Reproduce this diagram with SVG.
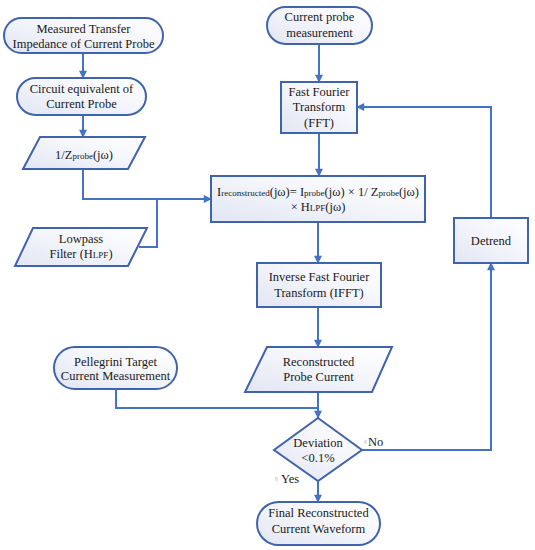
<svg xmlns="http://www.w3.org/2000/svg" width="535" height="550" viewBox="0 0 535 550">
<defs>
<linearGradient id="g" x1="0" y1="1" x2="1" y2="0">
<stop offset="0" stop-color="#e1e6f3"/>
<stop offset="0.6" stop-color="#f6f7fc"/>
<stop offset="1" stop-color="#ffffff"/>
</linearGradient>
<marker id="a" viewBox="0 0 10 10" refX="9" refY="5" markerWidth="9" markerHeight="8" markerUnits="userSpaceOnUse" orient="auto">
<path d="M0,0 L10,5 L0,10 z" fill="#4472c4"/>
</marker>
</defs>
<style>
.s{fill:url(#g);stroke:#3f63ad;stroke-width:2}
.c{fill:none;stroke:#4472c4;stroke-width:2}
.t{font-family:"Liberation Serif","Times New Roman",serif;font-size:12.5px;fill:#1a1a1a;text-anchor:middle}
.sm{font-size:9px}
.l{font-family:"Liberation Serif","Times New Roman",serif;font-size:12.5px;fill:#1a1a1a}
</style>
<rect width="535" height="550" fill="#ffffff"/>
<g id="connectors">
<path class="c" d="M83,53 V78" marker-end="url(#a)"/>
<path class="c" d="M83,115 V137" marker-end="url(#a)"/>
<path class="c" d="M83,169 V199 H211" marker-end="url(#a)"/>
<path class="c" d="M139,247 H157 V199"/>
<path class="c" d="M319,44 V82" marker-end="url(#a)"/>
<path class="c" d="M319,133 V176" marker-end="url(#a)"/>
<path class="c" d="M318,222 V263" marker-end="url(#a)"/>
<path class="c" d="M318,307 V347" marker-end="url(#a)"/>
<path class="c" d="M318,392 V418" marker-end="url(#a)"/>
<path class="c" d="M116,389 V408 H318"/>
<path class="c" d="M362,450 H491 V263" marker-end="url(#a)"/>
<path class="c" d="M491,218 V107 H357" marker-end="url(#a)"/>
<path class="c" d="M318,481 V502" marker-end="url(#a)"/>
</g>
<g id="n1">
<rect class="s" x="4" y="18" width="159" height="35" rx="17.5"/>
<text class="t" x="83.5" y="33">Measured Transfer</text>
<text class="t" x="83.5" y="48">Impedance of Current Probe</text>
</g>
<g id="n2">
<rect class="s" x="17" y="78" width="129" height="37" rx="18.5"/>
<text class="t" x="81.5" y="93">Circuit equivalent of</text>
<text class="t" x="81.5" y="108">Current Probe</text>
</g>
<g id="n3">
<polygon class="s" points="40,137 145,137 128,169 23,169"/>
<text class="t" x="84" y="159">1/Z<tspan class="sm">probe</tspan>(jω)</text>
</g>
<g id="n4">
<polygon class="s" points="33,228 147,228 128,266 15,266"/>
<text class="t" x="81" y="243">Lowpass</text>
<text class="t" x="81" y="258">Filter (H<tspan class="sm">LPF</tspan>)</text>
</g>
<g id="n5">
<rect class="s" x="267" y="7" width="105" height="37" rx="18.5"/>
<text class="t" x="319.5" y="21">Current probe</text>
<text class="t" x="319.5" y="37">measurement</text>
</g>
<g id="n6">
<rect class="s" x="281" y="82" width="76" height="51"/>
<text class="t" x="319" y="96">Fast Fourier</text>
<text class="t" x="319" y="111">Transform</text>
<text class="t" x="319" y="127">(FFT)</text>
</g>
<g id="n7">
<rect class="s" x="211" y="176" width="214" height="46"/>
<text class="t" x="318" y="196">I<tspan class="sm">reconstructed</tspan>(jω)= I<tspan class="sm">probe</tspan>(jω) × 1/ Z<tspan class="sm">probe</tspan>(jω)</text>
<text class="t" x="318" y="211">× H<tspan class="sm">LPF</tspan>(jω)</text>
</g>
<g id="n8">
<rect class="s" x="454" y="218" width="74" height="45"/>
<text class="t" x="491" y="245">Detrend</text>
</g>
<g id="n9">
<rect class="s" x="257" y="263" width="124" height="44"/>
<text class="t" x="319" y="281">Inverse Fast Fourier</text>
<text class="t" x="319" y="297">Transform (IFFT)</text>
</g>
<g id="n10">
<polygon class="s" points="267,347 392,347 372,392 245,392"/>
<text class="t" x="318.5" y="366">Reconstructed</text>
<text class="t" x="318.5" y="381">Probe Current</text>
</g>
<g id="n11">
<rect class="s" x="54" y="347" width="123" height="42" rx="21"/>
<text class="t" x="115.5" y="366">Pellegrini Target</text>
<text class="t" x="115.5" y="380">Current Measurement</text>
</g>
<g id="n12">
<polygon class="s" points="318,418 362,450 318,481 274,450"/>
<text class="t" x="318" y="447">Deviation</text>
<text class="t" x="318" y="462">&lt;0.1%</text>
</g>
<g id="n13">
<rect class="s" x="257" y="502" width="123" height="43" rx="21.5"/>
<text class="t" x="318.5" y="517">Final Reconstructed</text>
<text class="t" x="318.5" y="533">Current Waveform</text>
</g>
<g id="labels">
<rect x="364" y="440" width="3" height="4" fill="#e2e2e2"/>
<text class="l" x="368" y="446">No</text>
<rect x="275" y="477" width="3" height="4" fill="#e2e2e2"/>
<text class="l" x="281" y="483">Yes</text>
</g>
</svg>
